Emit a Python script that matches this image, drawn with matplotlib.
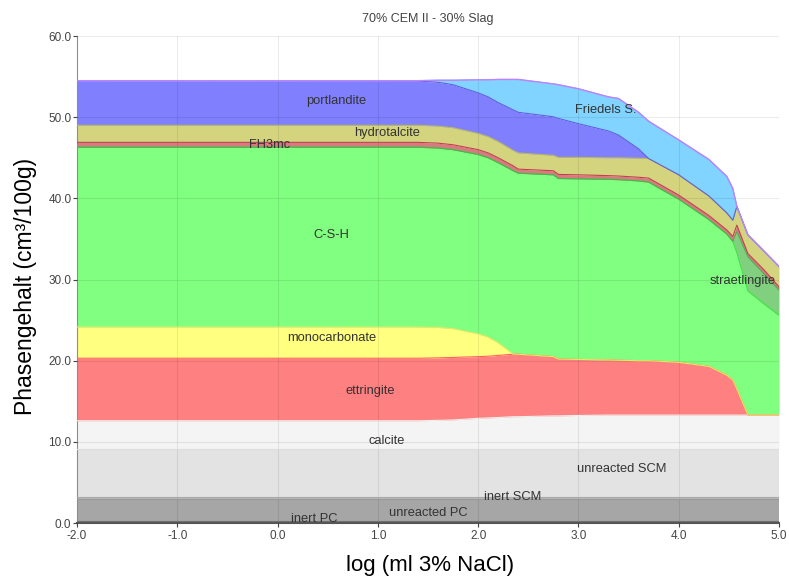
import numpy as np
import matplotlib.pyplot as plt

plt.rcParams['font.family'] = ['Liberation Sans', 'DejaVu Sans']

# x-Achse: log (ml 3% NaCl)
x = [-2.0, 1.4, 1.6, 1.75, 2.0, 2.1, 2.2, 2.35, 2.4, 2.75, 2.8, 3.0, 3.3, 3.4,
     3.6, 3.7, 4.0, 4.3, 4.48, 4.54, 4.58, 4.69, 4.85, 5.0]
n = len(x)

# Obergrenzen der gestapelten Phasen (cm3/100g)
top_inert_pc = [0.3] * n
top_unreacted_pc = [3.0] * n
top_inert_scm = [3.15] * n
top_unreacted_scm = [9.1] * n
top_calcite = [12.6, 12.6, 12.65, 12.7, 12.9, 12.95, 13.0, 13.1, 13.1, 13.2, 13.2, 13.25,
               13.3, 13.3, 13.3, 13.3, 13.3, 13.3, 13.3, 13.3, 13.3, 13.3, 13.3, 13.3]
top_ettringite = [20.3, 20.3, 20.35, 20.4, 20.5, 20.55, 20.65, 20.8, 20.8, 20.5, 20.2, 20.15,
                  20.1, 20.05, 20.0, 20.0, 19.8, 19.3, 18.2, 17.6, 16.5, 13.3, 13.3, 13.3]
top_monocarb = [24.15, 24.15, 24.1, 23.95, 23.3, 22.9, 22.2, 20.8, 20.8, 20.5, 20.2, 20.15,
                20.1, 20.05, 20.0, 20.0, 19.8, 19.3, 18.2, 17.6, 16.5, 13.3, 13.3, 13.3]
top_csh = [46.3, 46.3, 46.2, 46.0, 45.4, 45.0, 44.4, 43.4, 43.1, 42.9, 42.45, 42.4,
           42.35, 42.3, 42.15, 42.0, 39.9, 37.4, 35.6, 34.7, 33.3, 28.6, 27.0, 25.6]
top_straet = [46.3, 46.3, 46.2, 46.0, 45.4, 45.0, 44.4, 43.4, 43.1, 42.9, 42.45, 42.4,
              42.35, 42.3, 42.15, 42.0, 39.9, 37.4, 35.6, 34.7, 35.9, 32.8, 30.7, 28.7]
top_fh3mc = [46.9, 46.9, 46.8, 46.6, 46.0, 45.6, 45.0, 44.0, 43.6, 43.4, 42.95, 42.9,
             42.8, 42.75, 42.6, 42.5, 40.4, 37.9, 36.1, 35.3, 36.7, 33.2, 31.2, 29.1]
top_hydro = [49.0, 49.0, 48.9, 48.7, 48.0, 47.6, 47.0, 45.9, 45.6, 45.3, 45.05, 45.05,
             45.0, 45.0, 44.95, 44.9, 42.9, 40.3, 38.2, 37.3, 39.0, 35.5, 33.5, 31.6]
top_portl = [54.5, 54.45, 54.3, 54.0, 53.0, 52.5, 51.8, 50.9, 50.6, 50.05, 49.85, 49.2,
             48.3, 47.8, 46.1, 44.9, 42.9, 40.3, 38.2, 37.3, 39.0, 35.5, 33.5, 31.6]
top_friedel = [54.5, 54.5, 54.55, 54.55, 54.6, 54.6, 54.65, 54.65, 54.65, 54.1, 54.0, 53.5,
               52.5, 52.3, 50.6, 49.5, 47.2, 44.8, 42.7, 41.2, 39.0, 35.5, 33.5, 31.6]

phases = ['inert PC', 'unreacted PC', 'inert SCM', 'unreacted SCM', 'calcite', 'ettringite',
          'monocarbonate', 'C-S-H', 'straetlingite', 'FH3mc', 'hydrotalcite', 'portlandite',
          'Friedels S.']
tops = [top_inert_pc, top_unreacted_pc, top_inert_scm, top_unreacted_scm, top_calcite,
        top_ettringite, top_monocarb, top_csh, top_straet, top_fh3mc, top_hydro, top_portl,
        top_friedel]
fills = ['#8a8a8a', '#a6a6a6', '#b8b8b8', '#e3e3e3', '#f4f4f4', '#ff8080', '#ffff80',
         '#80ff80', '#80d080', '#d97a80', '#d4d47f', '#8080ff', '#80d4ff']
edges = ['#707070', '#999999', '#aaaaaa', '#dddddd', '#eeeeee', '#ff6060', '#e8e860',
         '#40e040', '#50b050', '#c04050', '#b8b860', '#6060e0', '#60c0f0']

# Beschriftungspositionen (x, y)
label_pos = {
    'inert PC': (0.37, 0.5), 'unreacted PC': (1.5, 1.2), 'inert SCM': (2.34, 3.2),
    'unreacted SCM': (3.43, 6.65), 'calcite': (1.09, 10.1), 'ettringite': (0.92, 16.3),
    'monocarbonate': (0.54, 22.8), 'C-S-H': (0.54, 35.5), 'straetlingite': (4.64, 29.8),
    'FH3mc': (-0.08, 46.6), 'hydrotalcite': (1.09, 48.05), 'portlandite': (0.58, 52.0),
    'Friedels S.': (3.27, 50.9),
}

fig = plt.figure(figsize=(7.89, 5.81), dpi=100)
ax = fig.add_axes([0.0976, 0.0998, 0.8897, 0.8382])

xa = np.array(x)
bottom = np.zeros(n)
for name, top, fc, ec in zip(phases, tops, fills, edges):
    top = np.array(top)
    ax.fill_between(xa, bottom, top, color=fc, linewidth=0, zorder=2)
    ax.plot(xa, top, color=ec, linewidth=0.8, zorder=3)
    bottom = top

ax.plot(xa, top_friedel, color='#c080ff', linewidth=1.0, zorder=4)

for name in phases:
    lx, ly = label_pos[name]
    ax.text(lx, ly, name, ha='center', va='center', fontsize=9.3, color='#333333', zorder=6)

ax.set_xlim(-2.0, 5.0)
ax.set_ylim(0, 60)
ax.set_xticks(np.arange(-2, 5.01, 1.0))
ax.set_yticks(np.arange(0, 60.01, 10.0))
ax.xaxis.set_major_formatter(plt.FormatStrFormatter('%.1f'))
ax.yaxis.set_major_formatter(plt.FormatStrFormatter('%.1f'))
ax.tick_params(axis='both', labelsize=8.5, colors='#444444', length=3, width=0.8)
ax.tick_params(axis='x', pad=2)
ax.tick_params(axis='y', pad=1)
ax.grid(True, color='#000000', alpha=0.08, linewidth=0.8, zorder=5)
ax.set_axisbelow(False)

for s in ['top', 'right']:
    ax.spines[s].set_visible(False)
ax.spines['left'].set_color('#999999')
ax.spines['bottom'].set_color('#555555')
ax.spines['bottom'].set_linewidth(1.5)

ax.set_title('70% CEM II - 30% Slag', fontsize=9, color='#444444', pad=10)
ax.set_xlabel('log (ml 3% NaCl)', fontsize=16)
ax.set_ylabel('Phasengehalt (cm³/100g)', fontsize=16.5)
ax.xaxis.set_label_coords(0.503, -0.066)
ax.yaxis.set_label_coords(-0.057, 0.485)

fig.savefig('out.png', dpi=100)
